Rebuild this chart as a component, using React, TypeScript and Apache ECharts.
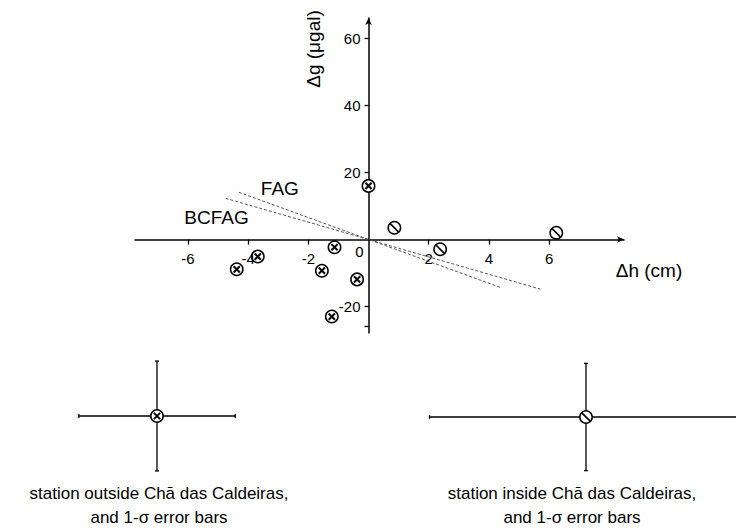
import React, { useEffect, useRef } from "react";
import * as echarts from "echarts";

// ---- data ----
const xTickValues = [-6, -4, -2, 2, 4, 6];
const yLabelValues = [60, 40, 20, -20];
const yTickValues = [60, 40, 20, -20, -26];
// stations outside Chã das Caldeiras: [Δh (cm), Δg (µgal)]
const outsideStations = [
  [0.0, 16.0],
  [-1.13, -2.3],
  [-3.68, -5.1],
  [-4.38, -8.9],
  [-1.55, -9.3],
  [-0.38, -11.9],
  [-1.22, -23.0],
];
// stations inside Chã das Caldeiras
const insideStations = [
  [0.86, 3.5],
  [2.38, -2.9],
  [6.24, 2.0],
];
const fagLine = [
  [-4.31, 14.1],
  [4.41, -14.4],
];
const bcfagLine = [
  [-4.75, 12.3],
  [5.71, -14.8],
];
// 1-sigma error bars [Δh cm, Δg µgal]
const outsideError = [2.6, 16.4];
const insideError = [5.2, 16.0];

const FONT = "'Liberation Sans', Arial, Helvetica, sans-serif";

function makeMarker(kind: string, cx: number, cy: number) {
  const r = 6.2;
  const children: any[] = [
    {
      type: "circle",
      shape: { cx, cy, r },
      style: { fill: "#fff", stroke: "#000", lineWidth: 1.5 },
    },
  ];
  if (kind === "x") {
    const d = 3.1;
    children.push(
      {
        type: "line",
        shape: { x1: cx - d, y1: cy - d, x2: cx + d, y2: cy + d },
        style: { stroke: "#000", lineWidth: 2 },
      },
      {
        type: "line",
        shape: { x1: cx - d, y1: cy + d, x2: cx + d, y2: cy - d },
        style: { stroke: "#000", lineWidth: 2 },
      }
    );
  } else {
    const d = r * 0.72;
    children.push({
      type: "line",
      shape: { x1: cx - d, y1: cy - d, x2: cx + d, y2: cy + d },
      style: { stroke: "#000", lineWidth: 1.7 },
    });
  }
  return { type: "group", children };
}

function markerRenderer(kind: string) {
  return (params: any, api: any) => {
    const p = api.coord([api.value(0), api.value(1)]);
    return makeMarker(kind, p[0], p[1]);
  };
}

function errorGlyph(kind: string, cx: number, cy: number, hx: number, hy: number) {
  const st = { stroke: "#000", lineWidth: 1.3 };
  const cap = 2;
  return {
    type: "group",
    children: [
      { type: "line", shape: { x1: cx - hx, y1: cy, x2: cx + hx, y2: cy }, style: st },
      { type: "line", shape: { x1: cx, y1: cy - hy, x2: cx, y2: cy + hy }, style: st },
      { type: "line", shape: { x1: cx - hx, y1: cy - cap, x2: cx - hx, y2: cy + cap }, style: st },
      { type: "line", shape: { x1: cx + hx, y1: cy - cap, x2: cx + hx, y2: cy + cap }, style: st },
      { type: "line", shape: { x1: cx - cap, y1: cy - hy, x2: cx + cap, y2: cy - hy }, style: st },
      { type: "line", shape: { x1: cx - cap, y1: cy + hy, x2: cx + cap, y2: cy + hy }, style: st },
      makeMarker(kind, cx, cy),
    ],
  };
}

export default function App() {
  const ref = useRef<HTMLDivElement>(null);

  useEffect(() => {
    const chart = echarts.init(ref.current!, null, { renderer: "svg" });
    const axisLineStyle = { color: "#000", width: 1.5 };
    const option: any = {
      animation: false,
      backgroundColor: "#fff",
      textStyle: { fontFamily: FONT },
      grid: { left: 135, right: 112, top: 18, bottom: 198, containLabel: false },
      xAxis: {
        type: "value",
        min: -7.76,
        max: 8.49,
        axisLine: {
          onZero: true,
          lineStyle: axisLineStyle,
          symbol: ["none", "arrow"],
          symbolSize: [5, 7],
        },
        axisTick: { show: true, length: 5, customValues: xTickValues, lineStyle: { color: "#000", width: 1.3 } },
        axisLabel: { show: false },
        splitLine: { show: false },
      },
      yAxis: {
        type: "value",
        min: -27.9,
        max: 66.1,
        axisLine: {
          onZero: true,
          lineStyle: axisLineStyle,
          symbol: ["none", "arrow"],
          symbolSize: [5, 7],
        },
        axisTick: { show: true, length: 4, customValues: yTickValues, lineStyle: { color: "#000", width: 1.3 } },
        axisLabel: { show: false },
        splitLine: { show: false },
      },
      series: [
        {
          name: "FAG",
          type: "line",
          data: fagLine,
          symbol: "none",
          lineStyle: { color: "#555", width: 1, type: [3, 2] },
          z: 1,
        },
        {
          name: "BCFAG",
          type: "line",
          data: bcfagLine,
          symbol: "none",
          lineStyle: { color: "#555", width: 1, type: [3, 2] },
          z: 1,
        },
        {
          name: "outside",
          type: "custom",
          data: outsideStations,
          renderItem: markerRenderer("x"),
          z: 5,
        },
        {
          name: "inside",
          type: "custom",
          data: insideStations,
          renderItem: markerRenderer("slash"),
          z: 5,
        },
      ],
    };
    chart.setOption(option);

    const toPx = (p: number[]) => chart.convertToPixel({ gridIndex: 0 }, p) as number[];
    const o = toPx([0, 0]);
    const u = toPx([1, 1]);
    const pxX = u[0] - o[0];
    const pxY = o[1] - u[1];
    const fagStart = toPx(fagLine[0]);
    const bcStart = toPx(bcfagLine[0]);

    const txt = (
      text: string,
      x: number,
      y: number,
      size: number,
      align = "center",
      extra: any = {}
    ) => ({
      type: "text",
      x,
      y,
      z: 10,
      ...extra,
      style: {
        text,
        fill: "#000",
        font: `${size}px ${FONT}`,
        align,
        verticalAlign: "middle",
      },
    });

    const xLabels = xTickValues.map((v) => {
      const p = toPx([v, 0]);
      return txt(String(v), p[0], p[1] + 19, 15);
    });
    const yLabels = yLabelValues.map((v) => {
      const p = toPx([0, v]);
      return txt(String(v), p[0] - 8, p[1], 15, "right");
    });

    chart.setOption({
      graphic: [
        ...xLabels,
        ...yLabels,
        txt("FAG", fagStart[0] + 41, fagStart[1] - 4, 19),
        txt("BCFAG", bcStart[0] - 9, bcStart[1] + 19, 19),
        txt("0", o[0] - 9, o[1] + 12, 15),
        txt("Δh (cm)", 649, 270, 19),
        txt("Δg (μgal)", 313, 49, 19, "center", { rotation: Math.PI / 2 }),
        errorGlyph("x", 157, 416, outsideError[0] * pxX, outsideError[1] * pxY),
        errorGlyph("slash", 586, 417, insideError[0] * pxX, insideError[1] * pxY),
        txt("station outside Chā das Caldeiras,", 159, 493, 17),
        txt("and 1-σ error bars", 159, 517, 17),
        txt("station inside Chā das Caldeiras,", 572, 493, 17),
        txt("and 1-σ error bars", 572, 517, 17),
      ],
    });

    return () => chart.dispose();
  }, []);

  return (
    <div
      ref={ref}
      style={{ position: "absolute", left: 0, top: 0, width: 736, height: 531, background: "#fff" }}
    />
  );
}
